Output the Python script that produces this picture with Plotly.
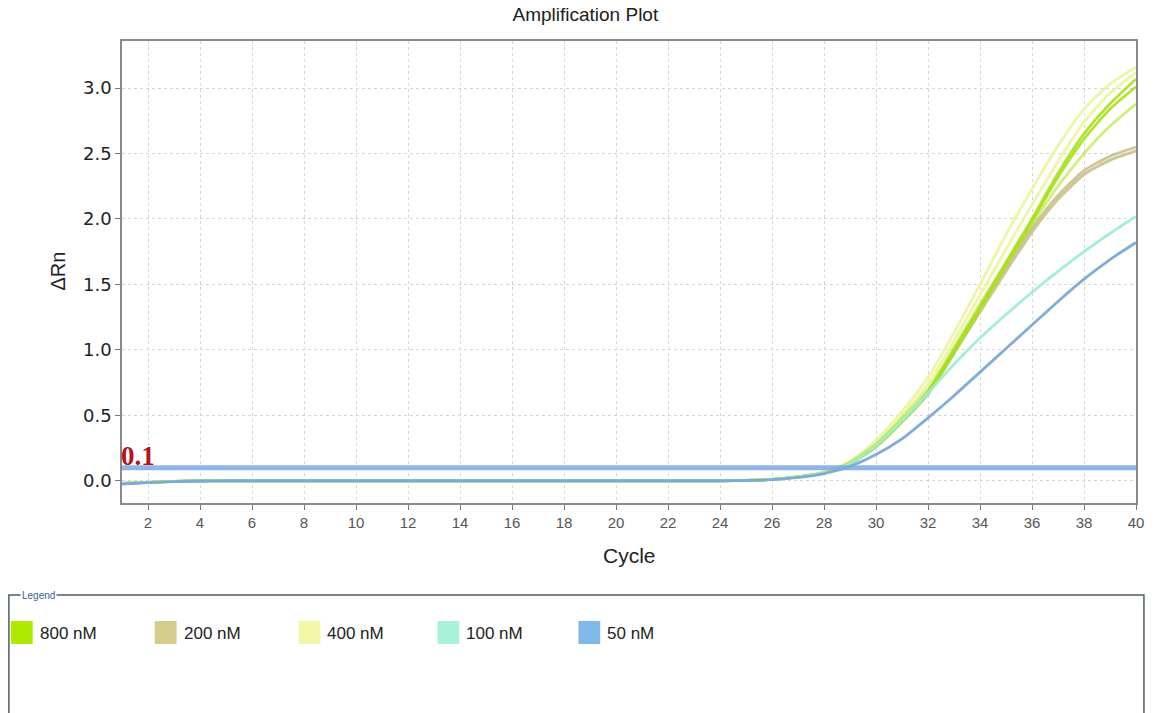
import plotly.graph_objects as go

# ---------------- data ----------------
CYCLES = list(range(1, 41))
THRESHOLD = 0.1

GROUPS = ["800 nM", "200 nM", "400 nM", "100 nM", "50 nM"]
GROUP_COLORS = ["#AEEA00", "#D4CC8A", "#F2F7A8", "#A8F2DA", "#80B8E8"]
LINE_COLORS = ["#A8E21A", "#C9C089", "#EDF59E", "#9EEEDA", "#7AA9D8"]

rep_800_a = [-0.02, -0.012, -0.005, -0.002, 0, 0, 0, 0, 0, 0, 0, 0, 0, 0, 0, 0, 0, 0, 0, 0,
             0, 0, 0, 0, 0.002, 0.01, 0.03, 0.06, 0.13, 0.27, 0.46, 0.68, 1.00, 1.33, 1.67, 2.00,
             2.35, 2.65, 2.88, 3.07]
rep_800_b = [-0.02, -0.012, -0.005, -0.002, 0, 0, 0, 0, 0, 0, 0, 0, 0, 0, 0, 0, 0, 0, 0, 0,
             0, 0, 0, 0, 0.002, 0.01, 0.03, 0.06, 0.13, 0.26, 0.45, 0.67, 0.98, 1.31, 1.65, 1.98,
             2.32, 2.61, 2.84, 3.01]
rep_800_c = [-0.02, -0.012, -0.005, -0.002, 0, 0, 0, 0, 0, 0, 0, 0, 0, 0, 0, 0, 0, 0, 0, 0,
             0, 0, 0, 0, 0.002, 0.01, 0.03, 0.06, 0.14, 0.28, 0.48, 0.70, 1.02, 1.35, 1.66, 1.96,
             2.25, 2.50, 2.71, 2.88]
rep_200_a = [-0.02, -0.012, -0.005, -0.002, 0, 0, 0, 0, 0, 0, 0, 0, 0, 0, 0, 0, 0, 0, 0, 0,
             0, 0, 0, 0, 0.002, 0.01, 0.03, 0.06, 0.13, 0.27, 0.46, 0.68, 0.99, 1.31, 1.63, 1.93,
             2.18, 2.37, 2.48, 2.55]
rep_200_b = [-0.02, -0.012, -0.005, -0.002, 0, 0, 0, 0, 0, 0, 0, 0, 0, 0, 0, 0, 0, 0, 0, 0,
             0, 0, 0, 0, 0.002, 0.01, 0.03, 0.06, 0.13, 0.26, 0.45, 0.66, 0.97, 1.29, 1.60, 1.90,
             2.15, 2.34, 2.45, 2.52]
rep_400_a = [-0.02, -0.012, -0.005, -0.002, 0, 0, 0, 0, 0, 0, 0, 0, 0, 0, 0, 0, 0, 0, 0, 0,
             0, 0, 0, 0, 0.002, 0.01, 0.03, 0.07, 0.15, 0.31, 0.53, 0.79, 1.13, 1.50, 1.88, 2.23,
             2.56, 2.84, 3.03, 3.16]
rep_400_b = [-0.02, -0.012, -0.005, -0.002, 0, 0, 0, 0, 0, 0, 0, 0, 0, 0, 0, 0, 0, 0, 0, 0,
             0, 0, 0, 0, 0.002, 0.01, 0.03, 0.06, 0.14, 0.29, 0.50, 0.74, 1.07, 1.42, 1.77, 2.11,
             2.44, 2.74, 2.96, 3.12]
rep_100_a = [-0.02, -0.012, -0.005, -0.002, 0, 0, 0, 0, 0, 0, 0, 0, 0, 0, 0, 0, 0, 0, 0, 0,
             0, 0, 0, 0, 0.002, 0.01, 0.03, 0.06, 0.13, 0.27, 0.46, 0.67, 0.89, 1.09, 1.27, 1.44,
             1.60, 1.75, 1.89, 2.02]
rep_50_a = [-0.025, -0.015, -0.006, -0.002, 0, 0, 0, 0, 0, 0, 0, 0, 0, 0, 0, 0, 0, 0, 0, 0,
            0, 0, 0, 0, 0.002, 0.008, 0.025, 0.055, 0.11, 0.20, 0.32, 0.48, 0.65, 0.83, 1.01, 1.19,
            1.37, 1.54, 1.69, 1.82]

# (group index, values, opacity) in drawing order
SERIES = [
    (1, rep_200_a, 0.9),
    (1, rep_200_b, 0.9),
    (2, rep_400_a, 0.9),
    (2, rep_400_b, 0.9),
    (0, rep_800_c, 0.55),
    (0, rep_800_a, 0.9),
    (0, rep_800_b, 0.9),
    (3, rep_100_a, 0.95),
    (4, rep_50_a, 0.95),
]

X_TICKS = list(range(2, 41, 2))
Y_TICKS = [0.0, 0.5, 1.0, 1.5, 2.0, 2.5, 3.0]

# ---------------- layout helpers ----------------
W, H = 1155, 713
L, R, T, B = 122, 11, 41, 210
PW, PH = W - L - R, H - T - B


def xp(px):
    return (px - L) / PW


def yp(py):
    return (H - B - py) / PH


fig = go.Figure()

for gi, vals, op in SERIES:
    fig.add_trace(go.Scatter(
        x=CYCLES, y=vals, mode="lines",
        line=dict(color=LINE_COLORS[gi], width=2.8, shape="spline", smoothing=0.6),
        opacity=op, name=GROUPS[gi], showlegend=False, hoverinfo="skip"))

# threshold line
fig.add_trace(go.Scatter(
    x=[CYCLES[0], CYCLES[-1]], y=[THRESHOLD, THRESHOLD], mode="lines",
    line=dict(color="rgba(125,168,225,0.85)", width=5),
    showlegend=False, hoverinfo="skip"))

font_family = "Liberation Sans, Arial, sans-serif"

fig.update_layout(
    width=W, height=H,
    margin=dict(l=L, r=R, t=T, b=B, pad=0),
    paper_bgcolor="white", plot_bgcolor="white",
    showlegend=False,
    hovermode=False,
    title=dict(text="Amplification Plot", x=xp(589), xref="paper", xanchor="center",
               y=1 - 14 / H, yanchor="middle", yref="container",
               font=dict(family=font_family, size=19, color="#222")),
    xaxis=dict(range=[1, 40], tickvals=X_TICKS, ticks="outside", ticklen=5, tickcolor="#777",
               showline=True, linecolor="#8a8a8a", linewidth=1.5, mirror=True,
               showgrid=True, gridcolor="#d6d6d6", griddash="dot", gridwidth=1,
               zeroline=False,
               tickfont=dict(family=font_family, size=15, color="#555")),
    yaxis=dict(range=[-0.17, 3.36], tickvals=Y_TICKS, tickformat=".1f", ticks="outside",
               ticklen=5, tickcolor="#777",
               showline=True, linecolor="#8a8a8a", linewidth=1.5, mirror=True,
               showgrid=True, gridcolor="#d6d6d6", griddash="dot", gridwidth=1,
               zeroline=False,
               tickfont=dict(family="DejaVu Sans, sans-serif", size=18, color="#222")),
)

annotations = [
    dict(text="ΔRn", x=xp(57), y=yp(271), xref="paper", yref="paper", showarrow=False,
         textangle=-90, font=dict(family=font_family, size=20, color="#222"),
         xanchor="center", yanchor="middle"),
    dict(text="Cycle", x=xp(633), y=yp(555), xref="paper", yref="paper", showarrow=False,
         font=dict(family=font_family, size=21, color="#222"),
         xanchor="center", yanchor="middle"),
    dict(text="<b>%.1f</b>" % THRESHOLD, x=CYCLES[0], y=THRESHOLD, xref="x", yref="y",
         showarrow=False, xanchor="left", yanchor="bottom", xshift=-3, yshift=-5,
         font=dict(family="Liberation Serif, Times New Roman, serif", size=27, color="#B3121E")),
]

shapes = []
# legend frame (left, top, right)
frame_top = 595
shapes.append(dict(type="path", xref="paper", yref="paper",
                   path="M %f %f L %f %f L %f %f L %f %f" % (
                       xp(8), yp(H + 5), xp(8), yp(frame_top), xp(1152), yp(frame_top),
                       xp(1152), yp(H + 5)),
                   line=dict(color="#4f5d66", width=1.5)))
annotations.append(dict(text="Legend", x=xp(19), y=yp(frame_top), xref="paper", yref="paper",
                        showarrow=False, xanchor="left", yanchor="middle",
                        bgcolor="white", borderpad=1,
                        font=dict(family=font_family, size=10, color="#3a5f8f")))

LEGEND_X = [10, 155, 300, 440, 582]
for gi, name in enumerate(GROUPS):
    x0 = LEGEND_X[gi]
    shapes.append(dict(type="rect", xref="paper", yref="paper",
                       x0=xp(x0), x1=xp(x0 + 22), y0=yp(644), y1=yp(621),
                       fillcolor=GROUP_COLORS[gi], line=dict(width=0)))
    annotations.append(dict(text=name, x=xp(x0 + 27), y=yp(633), xref="paper", yref="paper",
                            showarrow=False, xanchor="left", yanchor="middle",
                            font=dict(family=font_family, size=17, color="#222")))

fig.update_layout(annotations=annotations, shapes=shapes)

fig.write_html("out.html", config={"displayModeBar": False})
